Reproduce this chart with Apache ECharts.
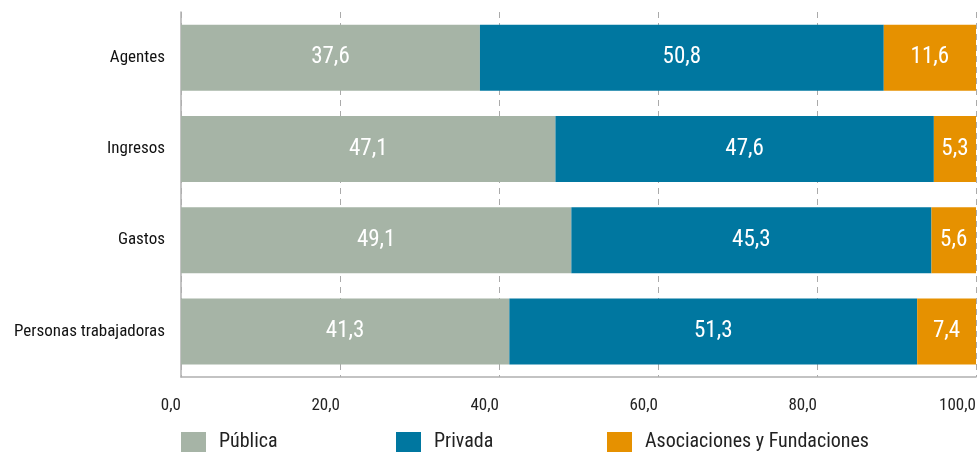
<!DOCTYPE html>
<html>
<head>
<meta charset="utf-8">
<script src="https://cdn.jsdelivr.net/npm/echarts@6/dist/echarts.min.js"></script>
<style>html,body{margin:0;padding:0;background:#fff}#c{width:979px;height:455px}</style>
</head>
<body>
<div id="c"></div>
<script>
const categories = ['Agentes', 'Ingresos', 'Gastos', 'Personas trabajadoras'];
const publica = [37.6, 47.1, 49.1, 41.3];
const privada = [50.8, 47.6, 45.3, 51.3];
const asociaciones = [11.6, 5.3, 5.6, 7.4];
const seriesNames = ['Pública', 'Privada', 'Asociaciones y Fundaciones'];
const colors = ['#a6b4a6', '#0077a0', '#e69100'];
const FONT = '"Liberation Sans Narrow", "Roboto Condensed", Roboto, sans-serif';
const fmt = v => v.toFixed(1).replace('.', ',');

const chart = echarts.init(document.getElementById('c'));
const mk = (name, data, color) => ({
  name, type: 'bar', stack: 'total', data, barWidth: 66,
  itemStyle: { color },
  label: { show: true, position: 'inside', color: '#fff', fontSize: 23, fontFamily: FONT,
    formatter: p => fmt(p.value) },
  emphasis: { disabled: true }
});
const legendPos = [181, 396, 607];
chart.setOption({
  animation: false,
  textStyle: { fontFamily: FONT },
  grid: { left: 181, right: 1, top: 12, bottom: 78, containLabel: false },
  legend: seriesNames.map((n, i) => ({
    data: [n], left: legendPos[i], top: 432, itemWidth: 25, itemHeight: 20, itemGap: 0,
    padding: 0, icon: 'rect',
    textStyle: { fontSize: 20, color: '#222', fontFamily: FONT, padding: [0, 0, 0, 8] },
    selectedMode: false
  })),
  xAxis: {
    type: 'value', min: 0, max: 100, interval: 20,
    axisLine: { show: true, lineStyle: { color: '#b0b0b0', width: 1.5 } },
    axisTick: { show: false },
    splitLine: { show: true, lineStyle: { color: '#aaaaaa', type: [6, 5], width: 1 } },
    axisLabel: { formatter: v => fmt(v), fontSize: 17, color: '#222', align: 'right', margin: 20, fontFamily: FONT }
  },
  yAxis: {
    type: 'category', data: categories, inverse: true,
    axisLine: { show: true, lineStyle: { color: '#b0b0b0', width: 1.5 } },
    axisTick: { show: false },
    axisLabel: { fontSize: 17, color: '#111', margin: 16, fontFamily: FONT }
  },
  series: [mk(seriesNames[0], publica, colors[0]), mk(seriesNames[1], privada, colors[1]), mk(seriesNames[2], asociaciones, colors[2])]
});
</script>
</body>
</html>
